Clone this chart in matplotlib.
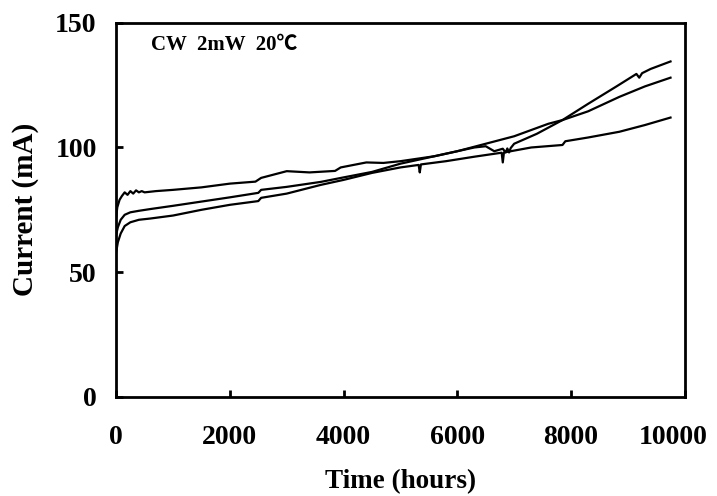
import matplotlib
matplotlib.use('Agg')
import matplotlib.pyplot as plt
import matplotlib.transforms as mtransforms

# device A: highest start, noisy, rises steeply after ~7800 h
t_a = [0, 20, 60, 100, 150, 200, 250, 300, 350, 400, 450, 500, 700, 1000, 1500,
       2000, 2450, 2550, 3000, 3400, 3850, 3950, 4400, 4700, 5000, 5300, 5600,
       6000, 6300, 6500, 6650, 6800, 6850, 6880, 6910, 6940, 7000, 7400, 7850,
       8300, 8800, 9150, 9200, 9250, 9400, 9750]
i_a = [72, 76, 79, 80.5, 82, 81, 82.5, 81.5, 82.8, 82, 82.5, 82, 82.5, 83, 84,
       85.5, 86.3, 87.8, 90.5, 90, 90.6, 92, 94, 93.8, 94.5, 95.5, 96.5,
       98.5, 100, 100.5, 98.5, 99.5, 98, 99.6, 98, 99.8, 101.5, 105.5, 111,
       117.5, 124.5, 129.5, 128, 129.8, 131.5, 134.5]

# device B: middle start, smooth
t_b = [0, 30, 80, 150, 250, 400, 600, 1000, 1500, 2000, 2500, 2550, 3000,
       3600, 4000, 4500, 5000, 5500, 6000, 6500, 7000, 7600, 7850, 8300, 8850,
       9300, 9750]
i_b = [65, 68, 71, 73, 74, 74.6, 75.3, 76.6, 78.3, 80, 81.8, 83, 84.2,
       86.2, 88, 90.2, 93.5, 96, 98.5, 101.5, 104.5, 109.5, 111, 114.5, 120.3,
       124.5, 128]

# device C: lowest start, slowest rise at the end
t_c = [0, 30, 80, 150, 250, 400, 600, 1000, 1500, 2000, 2500, 2550, 3000,
       3600, 4000, 4500, 5000, 5320, 5340, 5360, 5800, 6300, 6780, 6800, 6820,
       7300, 7850, 7900, 8300, 8850, 9300, 9750]
i_c = [58, 62, 65.5, 68.5, 70, 71, 71.5, 72.7, 75, 77, 78.5, 79.8, 81.5,
       85, 87, 89.8, 92, 93, 90, 93.2, 94.5, 96.3, 97.9, 94, 98,
       100, 101, 102.5, 104, 106.3, 109, 112]

x_ticks = [0, 2000, 4000, 6000, 8000, 10000]
y_ticks = [0, 50, 100, 150]


def main():
    plt.rcParams['font.family'] = ['Liberation Serif', 'DejaVu Serif']
    plt.rcParams['font.weight'] = 'bold'

    fig = plt.figure(figsize=(7.17, 4.96), dpi=100)
    ax = fig.add_axes([0.162, 0.200, 0.793, 0.754])

    for t, i in ((t_a, i_a), (t_b, i_b), (t_c, i_c)):
        ax.plot(t, i, color='black', lw=1.6, solid_joinstyle='round')

    ax.set_xlim(0, 10000)
    ax.set_ylim(0, 150)
    ax.set_xticks(x_ticks)
    ax.set_yticks(y_ticks)
    ax.tick_params(direction='in', length=5, width=2, labelsize=20)
    ax.tick_params(axis='x', pad=20)
    ax.tick_params(axis='y', pad=14)
    for s in ax.spines.values():
        s.set_linewidth(2)

    # pull the last x label in so it stays inside the figure
    last = ax.get_xticklabels()[-1]
    shift = mtransforms.ScaledTranslation(-8 / 72, 0, fig.dpi_scale_trans)
    last.set_transform(last.get_transform() + shift)

    ax.set_xlabel('Time (hours)', fontsize=19.5, fontweight='bold', labelpad=14)
    ax.set_ylabel('Current (mA)', fontsize=21, fontweight='bold', labelpad=12)
    ax.text(620, 141, 'CW  2mW  20\u2103', fontsize=15, fontweight='bold',
            va='center', family=['Liberation Serif', 'Noto Sans CJK SC', 'DejaVu Sans'])

    fig.savefig('out.png', dpi=100)


if __name__ == '__main__':
    main()
